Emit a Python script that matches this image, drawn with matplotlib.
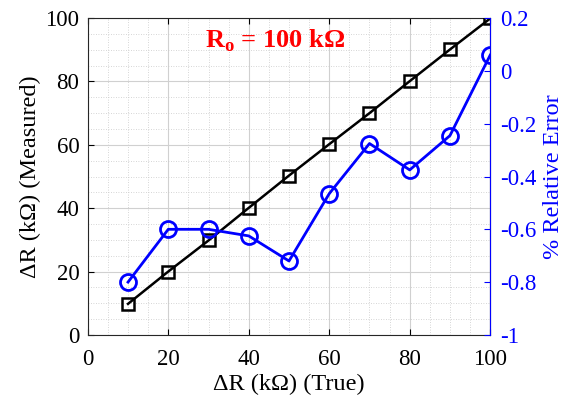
import matplotlib
matplotlib.use("Agg")
import matplotlib.pyplot as plt
from matplotlib.ticker import MultipleLocator

plt.rcParams['font.family'] = ['Liberation Serif', 'DejaVu Serif']
plt.rcParams['mathtext.fontset'] = 'custom'
plt.rcParams['mathtext.rm'] = 'Liberation Serif'
plt.rcParams['mathtext.bf'] = 'Liberation Serif:bold'

true_r = [10, 20, 30, 40, 50, 60, 70, 80, 90, 100]
measured_r = [9.8, 20.0, 29.8, 40.1, 50.3, 60.2, 70.0, 80.1, 90.1, 99.9]
rel_error = [-0.80, -0.60, -0.60, -0.625, -0.72, -0.465, -0.275, -0.375, -0.245, 0.06]

x_ticks = [0, 20, 40, 60, 80, 100]
left_ticks = [0, 20, 40, 60, 80, 100]
right_ticks = [-1, -0.8, -0.6, -0.4, -0.2, 0, 0.2]
right_labels = ['-1', '-0.8', '-0.6', '-0.4', '-0.2', '0', '0.2']

fig = plt.figure(figsize=(5.7, 4.03), dpi=100)
ax = fig.add_axes([0.154, 0.169, 0.706, 0.786])
ax2 = ax.twinx()

ax.set_xlim(0, 100)
ax.set_ylim(0, 100)
ax.set_xticks(x_ticks)
ax.set_yticks(left_ticks)
ax.xaxis.set_minor_locator(MultipleLocator(5))
ax.yaxis.set_minor_locator(MultipleLocator(5))
ax.grid(which='major', color='#d0d0d0', linewidth=0.8, linestyle='-')
ax.grid(which='minor', color='#c8c8c8', linewidth=0.6, linestyle=(0, (1, 2)))
ax.set_axisbelow(True)
ax.tick_params(which='both', direction='in', labelsize=16.5, colors='black')
ax.tick_params(which='minor', length=0)
ax.tick_params(which='major', length=4, top=True)
ax.tick_params(axis='x', pad=10)
ax.tick_params(axis='y', pad=6)
ax.plot(true_r, measured_r, color='black', linewidth=1.8, marker='s', markersize=8.5,
        markerfacecolor='none', markeredgewidth=1.8, zorder=3)
ax.set_xlabel('ΔR (kΩ) (True)', fontsize=17.5, labelpad=3)
ax.set_ylabel('ΔR (kΩ) (Measured)', fontsize=17.5, labelpad=3)
for s in ['left', 'top', 'bottom']:
    ax.spines[s].set_color('#262626')
ax.text(46.5, 93.0, r'$\mathbf{R}_{\mathbf{o}}$ = 100 kΩ', color='red', fontsize=19, fontweight='bold',
        ha='center', va='center')

ax2.set_ylim(-1, 0.2)
ax2.set_yticks(right_ticks)
ax2.set_yticklabels(right_labels)
ax2.plot(true_r, rel_error, color='blue', linewidth=2.0, marker='o', markersize=11.5,
         markerfacecolor='none', markeredgewidth=2.0, zorder=3)
ax2.tick_params(direction='in', labelsize=16.5, colors='blue', length=4, pad=7)
ax2.spines['right'].set_color('blue')
ax2.spines['left'].set_visible(False)
ax2.spines['top'].set_visible(False)
ax2.spines['bottom'].set_visible(False)
ax2.set_ylabel('% Relative Error', fontsize=17.5, color='blue', labelpad=5)

fig.savefig('out.png', dpi=100)
